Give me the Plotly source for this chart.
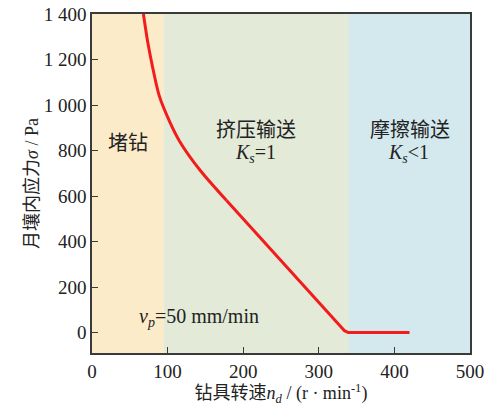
import plotly.graph_objects as go

# Data
speed = [68, 74, 81, 89, 103, 116, 143, 178, 200, 240, 284, 328, 334, 339, 420]
stress = [1400, 1271, 1153, 1040, 925, 840, 713, 580, 500, 350, 190, 30, 8, 0, 0]

region_edges = [0, 95, 340, 500]
region_colors = ["#FCEBC8", "#E3EAD8", "#D3E9EE"]

y_tickvals = [0, 200, 400, 600, 800, 1000, 1200, 1400]
y_ticktext = ["0", "200", "400", "600", "800", "1 000", "1 200", "1 400"]
x_tickvals = [0, 100, 200, 300, 400, 500]

FONT = "Liberation Serif, Times New Roman, Noto Sans CJK SC, serif"
CURVE_SPLIT = 7  # index where the curved part turns into the straight part

fig = go.Figure()

shapes = []
for i, c in enumerate(region_colors):
    shapes.append(dict(type="rect", xref="x", yref="paper",
                       x0=region_edges[i], x1=region_edges[i + 1], y0=0, y1=1,
                       fillcolor=c, line=dict(width=0), layer="below"))

fig.add_trace(go.Scatter(x=speed[:CURVE_SPLIT + 1], y=stress[:CURVE_SPLIT + 1], mode="lines",
                         line=dict(color="#F21C1C", width=3, shape="spline", smoothing=0.8),
                         showlegend=False, hoverinfo="skip"))
fig.add_trace(go.Scatter(x=speed[CURVE_SPLIT:], y=stress[CURVE_SPLIT:], mode="lines",
                         line=dict(color="#F21C1C", width=3),
                         showlegend=False, hoverinfo="skip"))

annots = [
    dict(x=47, y=831, text="堵钻"),
    dict(x=217, y=889, text="挤压输送"),
    dict(x=216, y=787, text="<i>K</i><sub><i>s</i></sub>=1"),
    dict(x=420, y=889, text="摩擦输送"),
    dict(x=418, y=787, text="<i>K</i><sub><i>s</i></sub>&lt;1"),
    dict(x=141, y=66, text="<i>v</i><sub><i>p</i></sub>=50 mm/min"),
]
for a in annots:
    fig.add_annotation(x=a["x"], y=a["y"], text=a["text"], showarrow=False,
                       font=dict(family=FONT, size=20, color="#222"),
                       xanchor="center", yanchor="middle")

axis_common = dict(showgrid=False, zeroline=False, showline=True, mirror=True,
                   linecolor="#3A3A3A", linewidth=1.5, ticks="inside", ticklen=6,
                   tickwidth=1.2, tickcolor="#3A3A3A", automargin=False,
                   tickfont=dict(family=FONT, size=19, color="#222"))

fig.update_layout(
    width=490, height=406,
    margin=dict(l=92, r=20, t=14, b=53),
    paper_bgcolor="white", plot_bgcolor="white",
    shapes=shapes,
    xaxis=dict(range=[0, 500], tickvals=x_tickvals,
               title=dict(text="钻具转速<i>n</i><sub><i>d</i></sub> / (r · min<sup>-1</sup>)",
                          font=dict(family=FONT, size=18, color="#222"), standoff=0),
               **axis_common),
    yaxis=dict(range=[-90, 1400], tickvals=y_tickvals, ticktext=y_ticktext,
               title=dict(text="月壤内应力<i>σ</i> / Pa",
                          font=dict(family=FONT, size=18, color="#222"), standoff=0),
               **axis_common),
)

fig.write_html("out.html", config={"displayModeBar": False},
               post_script="document.body.style.margin='0';")
